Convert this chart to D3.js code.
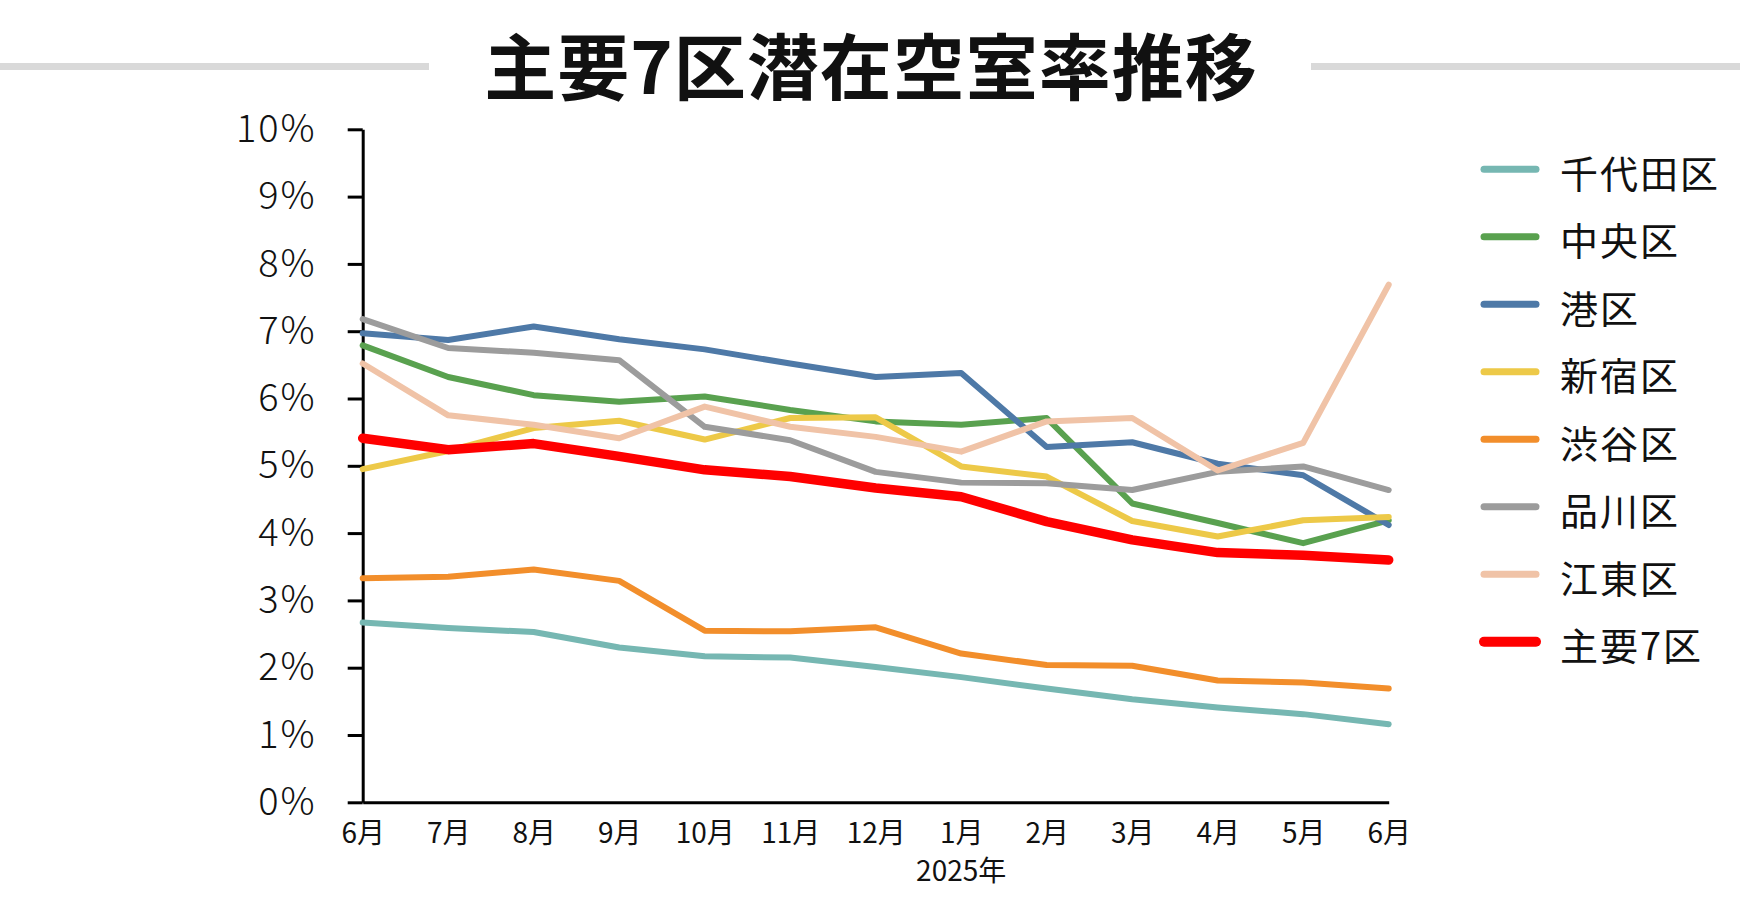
<!DOCTYPE html>
<html><head><meta charset="utf-8">
<script src="https://cdn.jsdelivr.net/npm/d3@7"></script>
<style>
html,body{margin:0;padding:0;background:#fff;}
svg{display:block;}
text{font-family:"Noto Sans CJK JP","Noto Sans",sans-serif;fill:#111;}
</style></head>
<body>
<svg id="chart" width="1747" height="910"></svg>
<script>
const title = "主要7区潜在空室率推移";
const months = ["6月","7月","8月","9月","10月","11月","12月","1月","2月","3月","4月","5月","6月"];
const yearLabel = "2025年";
const yTicks = [0,1,2,3,4,5,6,7,8,9,10];
const seriesNames = ["千代田区","中央区","港区","新宿区","渋谷区","品川区","江東区","主要7区"];
const chiyoda  = [2.67,2.59,2.53,2.30,2.17,2.15,2.01,1.86,1.69,1.53,1.41,1.31,1.16];
const chuo     = [6.79,6.32,6.05,5.95,6.03,5.83,5.66,5.61,5.71,4.44,4.15,3.85,4.19];
const minato   = [6.97,6.87,7.07,6.88,6.73,6.52,6.32,6.38,5.28,5.35,5.03,4.86,4.12];
const shinjuku = [4.95,5.22,5.56,5.67,5.39,5.71,5.72,4.99,4.84,4.18,3.95,4.19,4.24];
const shibuya  = [3.33,3.35,3.46,3.29,2.55,2.54,2.60,2.21,2.04,2.03,1.81,1.78,1.69];
const shinagawa= [7.18,6.75,6.68,6.57,5.58,5.38,4.91,4.75,4.74,4.64,4.91,4.99,4.64];
const koto     = [6.52,5.75,5.61,5.41,5.88,5.58,5.43,5.21,5.66,5.71,4.93,5.34,7.69];
const major7   = [5.41,5.24,5.33,5.14,4.94,4.84,4.67,4.54,4.17,3.90,3.71,3.67,3.60];
const seriesValues = [chiyoda,chuo,minato,shinjuku,shibuya,shinagawa,koto,major7];
const colors = ["#76b7b2","#59a14f","#4e79a7","#edc948","#f28e2b","#9c9c9c","#f0c3a7","#ff0000"];
const widths = [6,6,6,6,6,6,6,9.5];

const svg = d3.select("#chart");

// title with side rules
svg.append("line").attr("x1",0).attr("x2",429).attr("y1",66.5).attr("y2",66.5)
  .attr("stroke","#d9d9d9").attr("stroke-width",7);
svg.append("line").attr("x1",1311).attr("x2",1740).attr("y1",66.5).attr("y2",66.5)
  .attr("stroke","#d9d9d9").attr("stroke-width",7);
svg.append("text").attr("x",871).attr("y",62).attr("text-anchor","middle")
  .attr("dominant-baseline","central").attr("font-size",72).attr("font-weight","bold")
  .attr("letter-spacing",1).text(title);

const x = d3.scalePoint().domain(d3.range(months.length)).range([362.7,1388.7]);
const y = d3.scaleLinear().domain([0,10]).range([802.3,129.3]);

// y axis
const gy = svg.append("g").attr("transform","translate(362.7,0)")
  .call(d3.axisLeft(y).tickValues(yTicks).tickSize(15).tickSizeOuter(0).tickPadding(31)
    .tickFormat(d=>d+"%"));
gy.select(".domain").attr("stroke","#000").attr("stroke-width",3);
gy.selectAll(".tick line").attr("stroke","#000").attr("stroke-width",3);
gy.selectAll(".tick text").attr("font-size",38).attr("font-family","'Noto Sans CJK JP'")
  .attr("font-weight",300).attr("fill","#111").attr("letter-spacing",2);

// x axis
const gx = svg.append("g").attr("transform","translate(0,802.3)")
  .call(d3.axisBottom(x).tickSize(0).tickSizeOuter(0).tickPadding(21).tickFormat(i=>months[i]));
gx.select(".domain").attr("stroke","#000").attr("stroke-width",3);
gx.selectAll(".tick text").attr("font-size",28).attr("font-family","'Noto Sans CJK JP'").attr("fill","#111");

svg.append("text").attr("x",x(7)).attr("y",881).attr("text-anchor","middle")
  .attr("font-size",28).text(yearLabel);

// lines
const line = d3.line().x((d,i)=>x(i)).y(d=>y(d));
seriesValues.forEach((vals,k)=>{
  svg.append("path").datum(vals).attr("d",line).attr("fill","none")
    .attr("stroke",colors[k]).attr("stroke-width",widths[k])
    .attr("stroke-linejoin","round").attr("stroke-linecap","round");
});

// legend
const lg = svg.append("g");
seriesNames.forEach((name,k)=>{
  const ly = 169.3 + k*67.5;
  lg.append("line").attr("x1",1484).attr("x2",1536).attr("y1",ly).attr("y2",ly)
    .attr("stroke",colors[k]).attr("stroke-width",k===7?10:7).attr("stroke-linecap","round");
  lg.append("text").attr("x",1560).attr("y",ly+2).attr("dominant-baseline","central")
    .attr("font-size",38).attr("letter-spacing",2).text(name);
});
</script>
</body></html>
